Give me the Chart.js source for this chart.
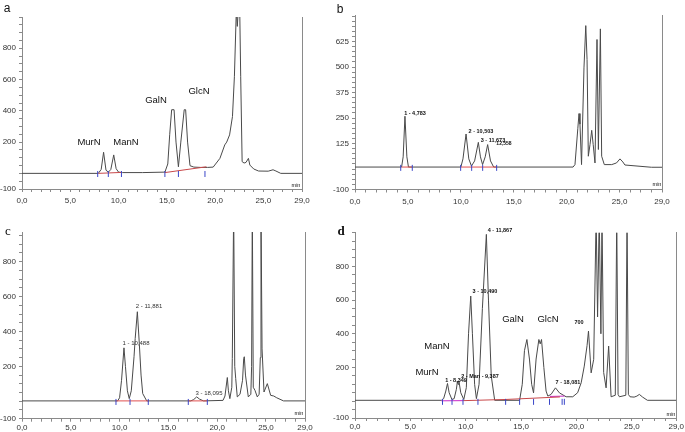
<!DOCTYPE html>
<html>
<head>
<meta charset="utf-8">
<script src="https://cdn.jsdelivr.net/npm/chart.js@4"></script>
<style>
  body { margin: 0; background: #fff; }
  #wrap { position: relative; width: 685px; height: 432px; overflow: hidden; font-family: "Liberation Sans", Arial, sans-serif; }
  canvas { position: absolute; }
  .lbl { position: absolute; white-space: nowrap; transform: translate(-50%, -50%); color: #111; line-height: 1; }
</style>
</head>
<body>
<div id="wrap">
  <canvas id="chartA" style="left:0;top:0" width="340" height="216"></canvas>
  <canvas id="chartB" style="left:320px;top:0" width="365" height="216"></canvas>
  <canvas id="chartC" style="left:0;top:216px" width="340" height="216"></canvas>
  <canvas id="chartD" style="left:320px;top:216px" width="365" height="216"></canvas>
</div>
<script>
// 横轴刻度（min）
const xLabels = [0, 5, 10, 15, 20, 25, 29];

// 图 a
const aTime   = [0, 7.9, 8.2, 8.45, 8.7, 8.95, 9.2, 9.5, 9.75, 10.0, 10.4, 12.5, 14.8, 15.1, 15.3, 15.5, 15.75, 15.95, 16.2, 16.45, 16.8, 16.95, 17.15, 17.4, 17.8, 18.5, 19.2, 19.8, 20.5, 21.0, 21.2, 21.5, 21.8, 22.0, 22.2, 22.3, 22.4, 22.55, 22.65, 22.8, 23.0, 23.2, 23.45, 23.6, 24.0, 24.5, 25.5, 26.0, 26.3, 26.8, 29];
const aSignal = [0, 0, 25, 135, 20, 8, 25, 118, 30, 8, 5, 5, 8, 60, 250, 407, 407, 200, 42, 200, 407, 407, 200, 49, 40, 38, 38, 40, 96, 182, 200, 246, 364, 621, 1050, 940, 1050, 1050, 621, 75, 66, 70, 96, 53, 28, 15, 14, 23, 15, 0, 0];
const aBaseTime = [7.9, 10.3, null, 14.8, 19.1];
const aBaseVal  = [0, 6, null, 5, 42];
const aMarks    = [7.84, 8.94, 10.3, 14.8, 16.2, 18.95];
const aYLabels  = [-100, 200, 400, 600, 800];

// 图 b
const bTime   = [0, 4.4, 4.55, 4.72, 4.9, 5.05, 10.0, 10.2, 10.49, 10.75, 11.0, 11.3, 11.65, 11.85, 12.05, 12.3, 12.53, 12.8, 13.1, 20.6, 20.78, 21.05, 21.16, 21.25, 21.4, 21.63, 21.8, 21.92, 22.04, 22.2, 22.36, 22.5, 22.67, 22.86, 22.99, 23.18, 23.3, 23.55, 24.25, 24.7, 25.03, 25.3, 25.5, 28.0, 29];
const bSignal = [10, 10, 60, 259, 60, 10, 10, 50, 172, 50, 15, 40, 131, 60, 22, 60, 120, 40, 10, 10, 22, 200, 272, 220, 22, 496, 703, 537, 63, 120, 190, 120, 30, 635, 96, 687, 63, 22, 22, 30, 50, 35, 20, 9, 9];
const bBaseTime = [4.4, 5.4, null, 10.0, 13.4];
const bBaseVal  = [10, 10, null, 10, 10];
const bMarks    = [4.32, 5.41, 9.98, 11.02, 12.06, 13.38];
const bYLabels  = [-100, 125, 250, 375, 500, 625];

// 图 c
const cTime   = [0, 9.8, 10.0, 10.2, 10.45, 10.6, 10.8, 10.99, 11.2, 11.48, 11.6, 11.82, 12.02, 12.2, 12.37, 12.78, 17.3, 17.6, 17.9, 18.2, 18.6, 20.6, 20.8, 21.04, 21.15, 21.3, 21.5, 21.55, 21.69, 21.8, 21.9, 22.06, 22.34, 22.6, 22.72, 22.78, 22.9, 23.19, 23.45, 23.53, 23.6, 23.7, 23.87, 24.11, 24.3, 24.42, 24.49, 24.6, 24.8, 25.14, 25.48, 25.8, 26.1, 26.8, 29];
const cSignal = [2, 2, 20, 120, 306, 200, 60, 15, 60, 255, 360, 513, 331, 150, 44, 2, 2, 10, 25, 12, 2, 5, 30, 136, 60, 15, 80, 245, 1100, 200, 130, 25, 40, 120, 245, 255, 150, 25, 40, 200, 1100, 80, 63, 25, 40, 250, 1100, 300, 53, 101, 34, 30, 20, 2, 2];
const cBaseTime = [9.6, 13.0, null, 17.0, 19.0];
const cBaseVal  = [2, 2, null, 2, 2];
const cMarks    = [9.63, 11.07, 12.94, 17.04, 18.99];
const cYLabels  = [-100, 200, 400, 600, 800];

// 图 d
const dTime   = [0, 7.8, 8.0, 8.2, 8.35, 8.5, 8.75, 8.95, 9.15, 9.25, 9.31, 9.38, 9.55, 9.82, 10.05, 10.25, 10.45, 10.6, 10.8, 10.96, 11.2, 11.5, 11.86, 12.05, 12.3, 12.61, 14.86, 15.1, 15.3, 15.52, 15.75, 15.95, 16.12, 16.35, 16.6, 16.72, 16.84, 17.05, 17.25, 17.41, 17.7, 18.1, 18.46, 19.06, 19.66, 20.1, 20.42, 20.7, 20.95, 21.08, 21.32, 21.55, 21.77, 21.9, 22.05, 22.2, 22.3, 22.45, 22.67, 22.9, 23.12, 23.5, 23.63, 23.75, 23.87, 24.45, 24.56, 24.68, 24.83, 25.2, 25.45, 25.67, 25.97, 26.4, 29];
const dSignal = [5, 5, 15, 60, 105, 50, 10, 15, 70, 119, 100, 119, 50, 10, 80, 400, 624, 400, 100, 15, 100, 550, 990, 600, 150, 5, 5, 100, 300, 366, 250, 100, 49, 250, 366, 340, 366, 200, 60, 30, 40, 79, 49, 26, 26, 50, 109, 208, 330, 416, 168, 248, 1100, 500, 1100, 400, 1100, 170, 79, 327, 26, 35, 1100, 40, 26, 35, 1100, 40, 26, 24, 30, 40, 24, 5, 5];
const dBaseTime = [9.75, 13.6, 18.5];
const dBaseVal  = [3, 10, 25];
const dPinkTime = [7.8, 9.75, null, 17.6, 18.9];
const dPinkVal  = [2, 3, null, 28, 30];
const dMarks    = [7.9, 8.76, 9.75, 11.1, 13.6, 14.86, 16.12, 17.56, 18.7, 18.9];
const dYLabels  = [-100, 200, 400, 600, 800];

// 文字标注
const labels = [
  { t: 'a', x: 7, y: 8, size: 12, font: 'Liberation Sans' },
  { t: 'b', x: 340, y: 9, size: 12, font: 'Liberation Sans' },
  { t: 'c', x: 8, y: 230, size: 13, font: 'Liberation Serif' },
  { t: 'd', x: 341, y: 230, size: 13, font: 'Liberation Serif', bold: true },
  { t: 'MurN', x: 89, y: 142, size: 9.5 },
  { t: 'ManN', x: 126, y: 142, size: 9.5 },
  { t: 'GalN', x: 156, y: 100, size: 9.5 },
  { t: 'GlcN', x: 199, y: 91, size: 9.5 },
  { t: '1 - 4,783', x: 415, y: 114, size: 5.5, bold: true },
  { t: '2 - 10,503', x: 481, y: 132, size: 5.5, bold: true },
  { t: '3 - 11,673', x: 493, y: 141, size: 5.5, bold: true },
  { t: '12,558', x: 504, y: 143, size: 5, bold: true },
  { t: '1 - 10,488', x: 136, y: 343, size: 6, color: '#333' },
  { t: '2 - 11,881', x: 149, y: 306, size: 6, color: '#333' },
  { t: '3 - 18,095', x: 209, y: 393, size: 6, color: '#333' },
  { t: '4 - 11,867', x: 500, y: 231, size: 5.5, bold: true },
  { t: '3 - 10,490', x: 485, y: 292, size: 5.5, bold: true },
  { t: 'GalN', x: 513, y: 319, size: 9.5 },
  { t: 'GlcN', x: 548, y: 319, size: 9.5 },
  { t: '700', x: 579, y: 323, size: 5.5, bold: true },
  { t: 'ManN', x: 437, y: 346, size: 9.5 },
  { t: 'MurN', x: 427, y: 372, size: 9.5 },
  { t: '1 - 8,349', x: 456, y: 381, size: 5.5, bold: true },
  { t: '2 - Man - 9,387', x: 480, y: 377, size: 5.5, bold: true },
  { t: '7 - 18,081', x: 568, y: 383, size: 5.5, bold: true },
  { t: 'min', x: 296, y: 186, size: 5.5 },
  { t: 'min', x: 657, y: 185, size: 5.5 },
  { t: 'min', x: 299, y: 414, size: 5.5 },
  { t: 'min', x: 671, y: 415, size: 5.5 }
];

Chart.defaults.font.family = '"Liberation Sans", Arial, sans-serif';
Chart.defaults.font.size = 8;
Chart.defaults.color = '#333';

const axisColor = '#8a8a8a';

function pts(times, vals) {
  return times.map((t, i) => ({ x: t, y: t === null ? null : vals[i] }));
}

function range(from, to, step) {
  const out = [];
  for (let v = from; v <= to + 1e-9; v += step) out.push({ value: Math.round(v * 100) / 100 });
  return out;
}

// 建一个色谱图
function makeChart(id, opt) {
  const datasets = [
    { data: pts(opt.time, opt.signal), borderColor: '#4a4a4a', borderWidth: 1, pointRadius: 0, order: 2 }
  ];
  opt.bases.forEach(b => {
    datasets.push({ data: pts(b.time, b.val), borderColor: b.color, borderWidth: 1, pointRadius: 0, spanGaps: false, order: 1 });
  });
  datasets.push({
    type: 'scatter',
    data: opt.marks.map(t => ({ x: t, y: opt.markY })),
    pointStyle: 'line', rotation: 90, radius: 3, borderColor: '#3a46c8', borderWidth: 1, order: 0
  });

  return new Chart(document.getElementById(id), {
    type: 'line',
    data: { datasets: datasets },
    options: {
      responsive: false,
      animation: false,
      events: [],
      layout: { padding: { left: 0, top: opt.top, right: opt.right, bottom: 0 } },
      plugins: { legend: { display: false }, tooltip: { enabled: false } },
      scales: {
        x: {
          type: 'linear', min: 0, max: 29,
          afterBuildTicks: s => { s.ticks = range(0, 29, 1); },
          afterFit: s => { s.height = opt.xHeight; },
          ticks: {
            autoSkip: false, maxRotation: 0, padding: opt.xPad,
            callback: v => xLabels.includes(v) ? v.toFixed(1).replace('.', ',') : ''
          },
          grid: { drawOnChartArea: false, tickLength: 3, color: axisColor },
          border: { color: axisColor }
        },
        y: {
          min: -100, max: opt.max,
          afterBuildTicks: s => { s.ticks = range(-100, opt.max, opt.step); },
          afterFit: s => { s.width = opt.yWidth; },
          ticks: {
            autoSkip: false, padding: 3,
            callback: v => opt.yLabels.includes(v) ? String(v) : ''
          },
          grid: { drawOnChartArea: false, tickLength: 3, color: axisColor },
          border: { color: axisColor }
        },
        y2: {
          position: 'right', min: -100, max: opt.max,
          afterFit: s => { s.width = 0; },
          ticks: { display: false },
          grid: { drawOnChartArea: false, drawTicks: false },
          border: { color: axisColor }
        }
      }
    }
  });
}

makeChart('chartA', {
  time: aTime, signal: aSignal, marks: aMarks, markY: -4,
  bases: [{ time: aBaseTime, val: aBaseVal, color: '#c8484a' }],
  max: 1000, step: 50, yLabels: aYLabels,
  top: 17, right: 38, yWidth: 22, xHeight: 27, xPad: 4
});

makeChart('chartB', {
  time: bTime, signal: bSignal, marks: bMarks, markY: 6,
  bases: [{ time: bBaseTime, val: bBaseVal, color: '#e05050' }],
  max: 755, step: 25, yLabels: bYLabels,
  top: 15, right: 23, yWidth: 35, xHeight: 26.5, xPad: 4
});

makeChart('chartC', {
  time: cTime, signal: cSignal, marks: cMarks, markY: -4,
  bases: [{ time: cBaseTime, val: cBaseVal, color: '#e05050' }],
  max: 970, step: 50, yLabels: cYLabels,
  top: 16, right: 35, yWidth: 22, xHeight: 13.3, xPad: 1
});

makeChart('chartD', {
  time: dTime, signal: dSignal, marks: dMarks, markY: -4,
  bases: [
    { time: dBaseTime, val: dBaseVal, color: '#c8484a' },
    { time: dPinkTime, val: dPinkVal, color: '#c828c8' }
  ],
  max: 1000, step: 50, yLabels: dYLabels,
  top: 16.7, right: 8, yWidth: 35, xHeight: 14, xPad: 1
});

// 放文字
const wrap = document.getElementById('wrap');
labels.forEach(l => {
  const el = document.createElement('div');
  el.className = 'lbl';
  el.textContent = l.t;
  el.style.left = l.x + 'px';
  el.style.top = l.y + 'px';
  el.style.fontSize = l.size + 'px';
  if (l.font) el.style.fontFamily = '"' + l.font + '"';
  if (l.bold) el.style.fontWeight = 'bold';
  if (l.color) el.style.color = l.color;
  wrap.appendChild(el);
});
</script>
</body>
</html>
